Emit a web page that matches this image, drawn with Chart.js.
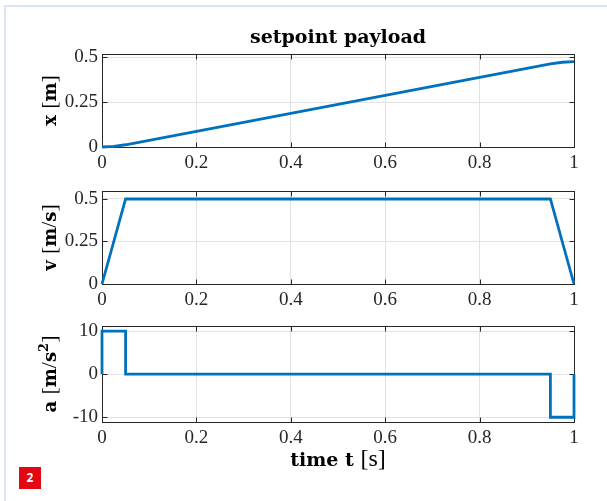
<!DOCTYPE html>
<html>
<head>
<meta charset="utf-8">
<title>setpoint payload</title>
<script src="https://cdn.jsdelivr.net/npm/chart.js"></script>
<style>
  html, body { margin: 0; padding: 0; background: #fff; }
  #page { position: relative; width: 607px; height: 501px; overflow: hidden; background: #fff; }
  #edge { position: absolute; left: 4px; top: 5px; width: 700px; height: 600px;
          border-left: 2px solid #dbe6f5; border-top: 2px solid #dbe6f5; }
  .panel { position: absolute; left: 0; }
  #badge { position: absolute; left: 19px; top: 467px; width: 22px; height: 22px;
           background: #e30613; color: #fff; font: bold 12px "Open Sans", sans-serif;
           text-align: center; line-height: 22px; }
</style>
</head>
<body>
<div id="page">
  <div id="edge"></div>
  <canvas id="posChart" class="panel" style="top:0px" width="607" height="175"></canvas>
  <canvas id="velChart" class="panel" style="top:175px" width="607" height="135"></canvas>
  <canvas id="accChart" class="panel" style="top:310px" width="607" height="191"></canvas>
  <div id="badge">2</div>
</div>
<script>
// setpoint trajectory: position, velocity, acceleration over time
const timePos = [0, 0.025, 0.05, 0.1, 0.2, 0.3, 0.4, 0.5, 0.6, 0.7, 0.8, 0.9, 0.95, 0.975, 1];
const position = [0, 0.003, 0.0125, 0.0375, 0.0875, 0.1375, 0.1875, 0.2375, 0.2875, 0.3375, 0.3875, 0.4375, 0.4625, 0.472, 0.475];

const timeVel = [0, 0.05, 0.95, 1];
const velocity = [0, 0.5, 0.5, 0];

const timeAcc = [0, 0, 0.05, 0.05, 0.95, 0.95, 1, 1];
const acceleration = [0, 10, 10, 0, 0, -10, -10, 0];

const timeTicks = [0, 0.2, 0.4, 0.6, 0.8, 1];
const posTicks = [0, 0.25, 0.5];
const velTicks = [0, 0.25, 0.5];
const accTicks = [-10, 0, 10];

// axis labels, [text, bold, superscript]
const posLabel = [['x ', 1], ['[', 0], ['m', 1], [']', 0]];
const velLabel = [['v ', 1], ['[', 0], ['m', 1], ['/', 0], ['s', 1], [']', 0]];
const accLabel = [['a ', 1], ['[', 0], ['m', 1], ['/', 0], ['s', 1], ['2', 1, 1], [']', 0]];
const timeLabel = [['time t ', 1], ['[', 0], ['s', 0], [']', 0]];
const titleText = 'setpoint payload';

const SERIF = '"Liberation Serif", "DejaVu Serif", serif';
const BOLD = '"DejaVu Serif", "Liberation Serif", serif';
const BLUE = '#0072bd';
const AXIS = '#262626';

// bold pieces in the wide serif, upright pieces (brackets, slash) in the narrow one
function font(bold, size) {
  return bold ? 'bold ' + size + 'px ' + BOLD : size + 'px ' + SERIF;
}

// draws mixed bold/normal text centred on x, with its baseline on y
function drawRich(ctx, parts, x, y, vertical, bSize, nSize) {
  const sizeOf = p => p[2] ? Math.round(bSize * 0.7) : (p[1] ? bSize : nSize);
  ctx.save();
  ctx.translate(x, y);
  if (vertical) ctx.rotate(-Math.PI / 2);
  let w = 0;
  const widths = parts.map(p => {
    ctx.font = font(p[1], sizeOf(p));
    const m = ctx.measureText(p[0]).width;
    w += m;
    return m;
  });
  let cx = -w / 2;
  ctx.fillStyle = '#000';
  ctx.textBaseline = 'alphabetic';
  ctx.textAlign = 'left';
  parts.forEach((p, i) => {
    ctx.font = font(p[1], sizeOf(p));
    ctx.fillText(p[0], cx, p[2] ? -bSize * 0.45 : 0);
    cx += widths[i];
  });
  ctx.restore();
}

// box round the axes with inward ticks on every side, plus titles
const boxPlugin = {
  id: 'box',
  beforeDatasetsDraw(chart) {
    const {ctx, chartArea: a, scales: {x, y}} = chart;
    const L = Math.round(a.left) + 0.5, R = Math.round(a.right) + 0.5;
    const T = Math.round(a.top) + 0.5, B = Math.round(a.bottom) + 0.5;
    ctx.save();
    ctx.strokeStyle = AXIS;
    ctx.lineWidth = 1;
    ctx.strokeRect(L, T, R - L, B - T);
    ctx.beginPath();
    x.ticks.forEach(t => {
      const px = Math.round(x.getPixelForValue(t.value)) + 0.5;
      ctx.moveTo(px, B); ctx.lineTo(px, B - 5);
      ctx.moveTo(px, T); ctx.lineTo(px, T + 5);
    });
    y.ticks.forEach(t => {
      const py = Math.round(y.getPixelForValue(t.value)) + 0.5;
      ctx.moveTo(L, py); ctx.lineTo(L + 5, py);
      ctx.moveTo(R, py); ctx.lineTo(R - 5, py);
    });
    ctx.stroke();
    ctx.restore();
  },
  afterDraw(chart, args, opts) {
    const {ctx, chartArea: a} = chart;
    const mid = (a.left + a.right) / 2;
    drawRich(ctx, opts.ylabel, 56, (a.top + a.bottom) / 2, true, 18, 22);
    if (opts.title) {
      ctx.save();
      ctx.font = font(true, 19);
      ctx.fillStyle = '#000';
      ctx.textAlign = 'center';
      ctx.textBaseline = 'alphabetic';
      ctx.fillText(opts.title, mid, 43);
      ctx.restore();
    }
    if (opts.xlabel) drawRich(ctx, opts.xlabel, mid, a.bottom + 44, false, 19, 24);
  }
};

function makePanel(id, t, vals, yMin, yMax, yTicks, areaTop, xHeight, extra) {
  new Chart(document.getElementById(id), {
    type: 'line',
    data: {
      datasets: [{
        data: t.map((v, i) => ({x: v, y: vals[i]})),
        borderColor: BLUE,
        borderWidth: 2.8,
        pointRadius: 0,
        tension: 0,
        fill: false,
        clip: 4
      }]
    },
    options: {
      responsive: false,
      animation: false,
      devicePixelRatio: 1,
      events: [],
      layout: {padding: {left: 0, right: 33, top: areaTop, bottom: 0}},
      plugins: {
        legend: {display: false},
        tooltip: {enabled: false},
        box: extra
      },
      scales: {
        x: {
          type: 'linear',
          min: 0,
          max: 1,
          afterBuildTicks: s => { s.ticks = timeTicks.map(v => ({value: v})); },
          afterFit: s => { s.height = xHeight; },
          grid: {color: '#e2e2e2', drawTicks: false},
          border: {display: false},
          ticks: {
            padding: 5,
            color: AXIS,
            font: {family: SERIF, size: 19},
            maxRotation: 0,
            callback: v => String(v)
          }
        },
        y: {
          type: 'linear',
          min: yMin,
          max: yMax,
          afterBuildTicks: s => { s.ticks = yTicks.map(v => ({value: v})); },
          afterFit: s => { s.width = 102; },
          grid: {color: '#e2e2e2', drawTicks: false},
          border: {display: false},
          ticks: {
            padding: 4,
            color: AXIS,
            font: {family: SERIF, size: 19},
            callback: v => String(v)
          }
        }
      }
    },
    plugins: [boxPlugin]
  });
}

makePanel('posChart', timePos, position, 0, 0.518, posTicks, 54, 28,
  {ylabel: posLabel, title: titleText});
makePanel('velChart', timeVel, velocity, 0, 0.547, velTicks, 16, 26,
  {ylabel: velLabel});
makePanel('accChart', timeAcc, acceleration, -11.1, 11.2, accTicks, 16, 79,
  {ylabel: accLabel, xlabel: timeLabel});
</script>
</body>
</html>
